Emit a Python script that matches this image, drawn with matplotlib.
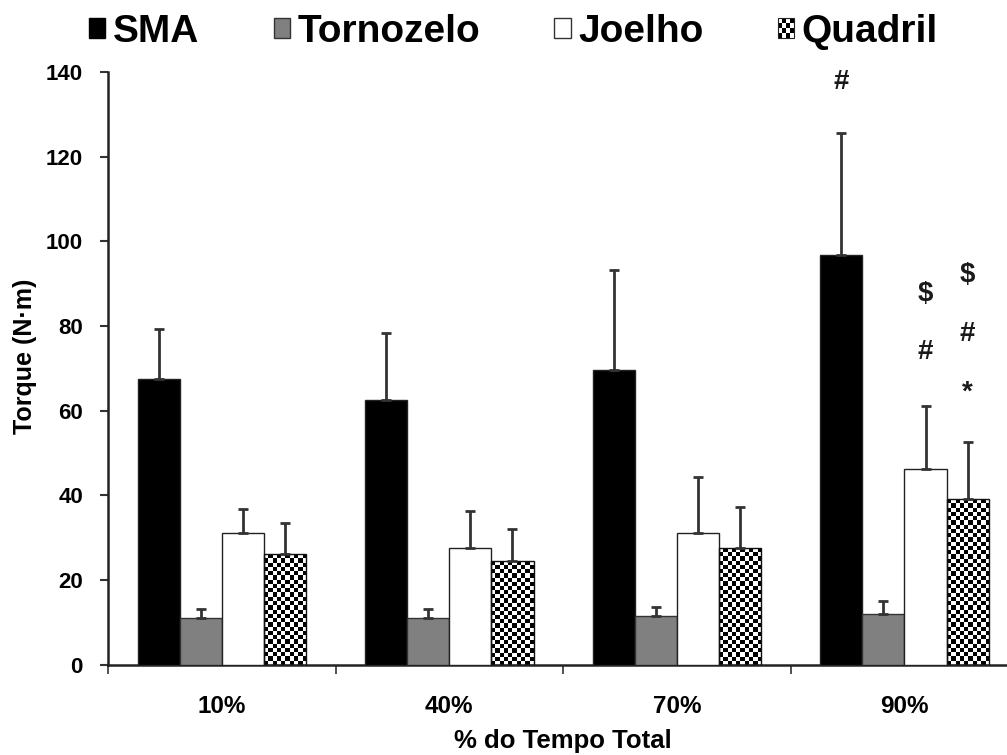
import numpy as np
import matplotlib
matplotlib.use('Agg')
import matplotlib.pyplot as plt
from matplotlib.patches import Patch, Rectangle
from matplotlib.legend_handler import HandlerBase

plt.rcParams['font.family'] = ['Liberation Sans', 'DejaVu Sans']
plt.rcParams['font.weight'] = 'bold'

# data
groups = ['10%', '40%', '70%', '90%']
series = ['SMA', 'Tornozelo', 'Joelho', 'Quadril']
sma = [67.4, 62.5, 69.6, 96.8]
sma_err = [11.9, 15.9, 23.6, 28.8]
tornozelo = [11.1, 11.1, 11.4, 12.0]
tornozelo_err = [2.0, 2.0, 2.3, 3.1]
joelho = [31.0, 27.5, 31.0, 46.2]
joelho_err = [5.8, 8.7, 13.3, 14.9]
quadril = [26.1, 24.4, 27.5, 39.1]
quadril_err = [7.3, 7.7, 9.8, 13.4]

# significance marks: (group index, series index, y, symbol)
mark_group = [3, 3, 3, 3, 3, 3]
mark_series = [0, 2, 2, 3, 3, 3]
mark_y = [138.3, 88.2, 74.5, 92.7, 78.8, 66.1]
mark_sym = ['#', '$', '#', '$', '#', '*']

means = [sma, tornozelo, joelho, quadril]
errs = [sma_err, tornozelo_err, joelho_err, quadril_err]
faces = ['black', '#808080', 'white', 'none']
edges = ['#222222', '#333333', '#222222', '#111111']

fig = plt.figure(figsize=(10.07, 7.55), dpi=100)
ax = fig.add_axes([0.1072, 0.1195, 0.904, 0.7853])

x = np.arange(len(groups))
w = 0.185
offsets = (np.arange(len(series)) - 1.5) * w

bar_sets = []
for k in range(len(series)):
    bars = ax.bar(x + offsets[k], means[k], w, color=faces[k],
                  edgecolor=edges[k], linewidth=1.0, zorder=3)
    bar_sets.append(bars)
    ax.errorbar(x + offsets[k], means[k],
                yerr=[np.zeros(len(groups)), errs[k]], fmt='none',
                ecolor='#333333', elinewidth=2, capsize=3.6, capthick=2,
                zorder=4)

# checkerboard fill for Quadril
ncell_x = 10
for rect in bar_sets[3]:
    x0, h, bw = rect.get_x(), rect.get_height(), rect.get_width()
    ny = max(1, int(round(h * 4.235 / 4.2)))
    pattern = np.add.outer(np.arange(ny), np.arange(ncell_x)) % 2
    im = ax.imshow(pattern, cmap='gray', vmin=0, vmax=1, origin='lower',
                   extent=(x0, x0 + bw, 0, h), interpolation='nearest',
                   aspect='auto', zorder=2)
    im.set_clip_path(rect)

# place glyph centres on the read positions
mark_fs = 20
for g, s, yv, sym in zip(mark_group, mark_series, mark_y, mark_sym):
    shift = -0.55 * mark_fs if sym == '*' else -0.36 * mark_fs
    ax.annotate(sym, (x[g] + offsets[s], yv), xytext=(0, shift),
                textcoords='offset points', ha='center', va='baseline',
                fontsize=mark_fs, fontweight='bold', color='#1a1a1a',
                zorder=5)

ax.set_xlim(-0.5, 3.5)
ax.set_ylim(0, 140)
ax.set_yticks(np.arange(0, 141, 20))
ax.set_xticks(x)
ax.set_xticklabels(groups)
ax.set_xticks(np.arange(-0.5, 3.6, 1.0), minor=True)

for s in ['top', 'right']:
    ax.spines[s].set_visible(False)
for s in ['left', 'bottom']:
    ax.spines[s].set_color('#222222')
    ax.spines[s].set_linewidth(1.8)

ax.tick_params(axis='y', direction='out', length=6, width=1.5,
               color='#333333', pad=12, labelsize=16)
ax.tick_params(axis='x', which='major', length=0, pad=22, labelsize=17.5)
ax.tick_params(axis='x', which='minor', direction='out', length=6.5,
               width=1.2, color='#333333')

ax.set_ylabel('Torque (N·m)', fontsize=18, fontweight='bold')
ax.yaxis.set_label_coords(-0.078, 0.52)
ax.set_xlabel('% do Tempo Total', fontsize=18.5, fontweight='bold')
ax.xaxis.set_label_coords(0.5, -0.108)


class CheckerHandler(HandlerBase):
    def create_artists(self, legend, orig_handle, xdescent, ydescent,
                       width, height, fontsize, trans):
        n = 4
        arts = [Rectangle((-xdescent, -ydescent), width, height,
                          facecolor='white', edgecolor='none',
                          transform=trans)]
        cw, ch = width / n, height / n
        for i in range(n):
            for j in range(n):
                if (i + j) % 2 == 0:
                    arts.append(Rectangle((-xdescent + i * cw, -ydescent + j * ch),
                                          cw, ch, facecolor='black',
                                          edgecolor='none', transform=trans))
        arts.append(Rectangle((-xdescent, -ydescent), width, height,
                              facecolor='none', edgecolor='#222222',
                              linewidth=0.8, transform=trans))
        return arts


checker_handle = Patch(facecolor='white', edgecolor='black')
handles = [Patch(facecolor='black', edgecolor='black'),
           Patch(facecolor='#808080', edgecolor='#333333'),
           Patch(facecolor='white', edgecolor='#333333'),
           checker_handle]
fig.legend(handles, series, loc='center', bbox_to_anchor=(0.51, 0.958),
           ncol=4, frameon=False, fontsize=28, handlelength=0.42,
           handleheight=0.42, handletextpad=0.2, columnspacing=1.9,
           handler_map={checker_handle: CheckerHandler()})

fig.savefig('out.png', dpi=100)
